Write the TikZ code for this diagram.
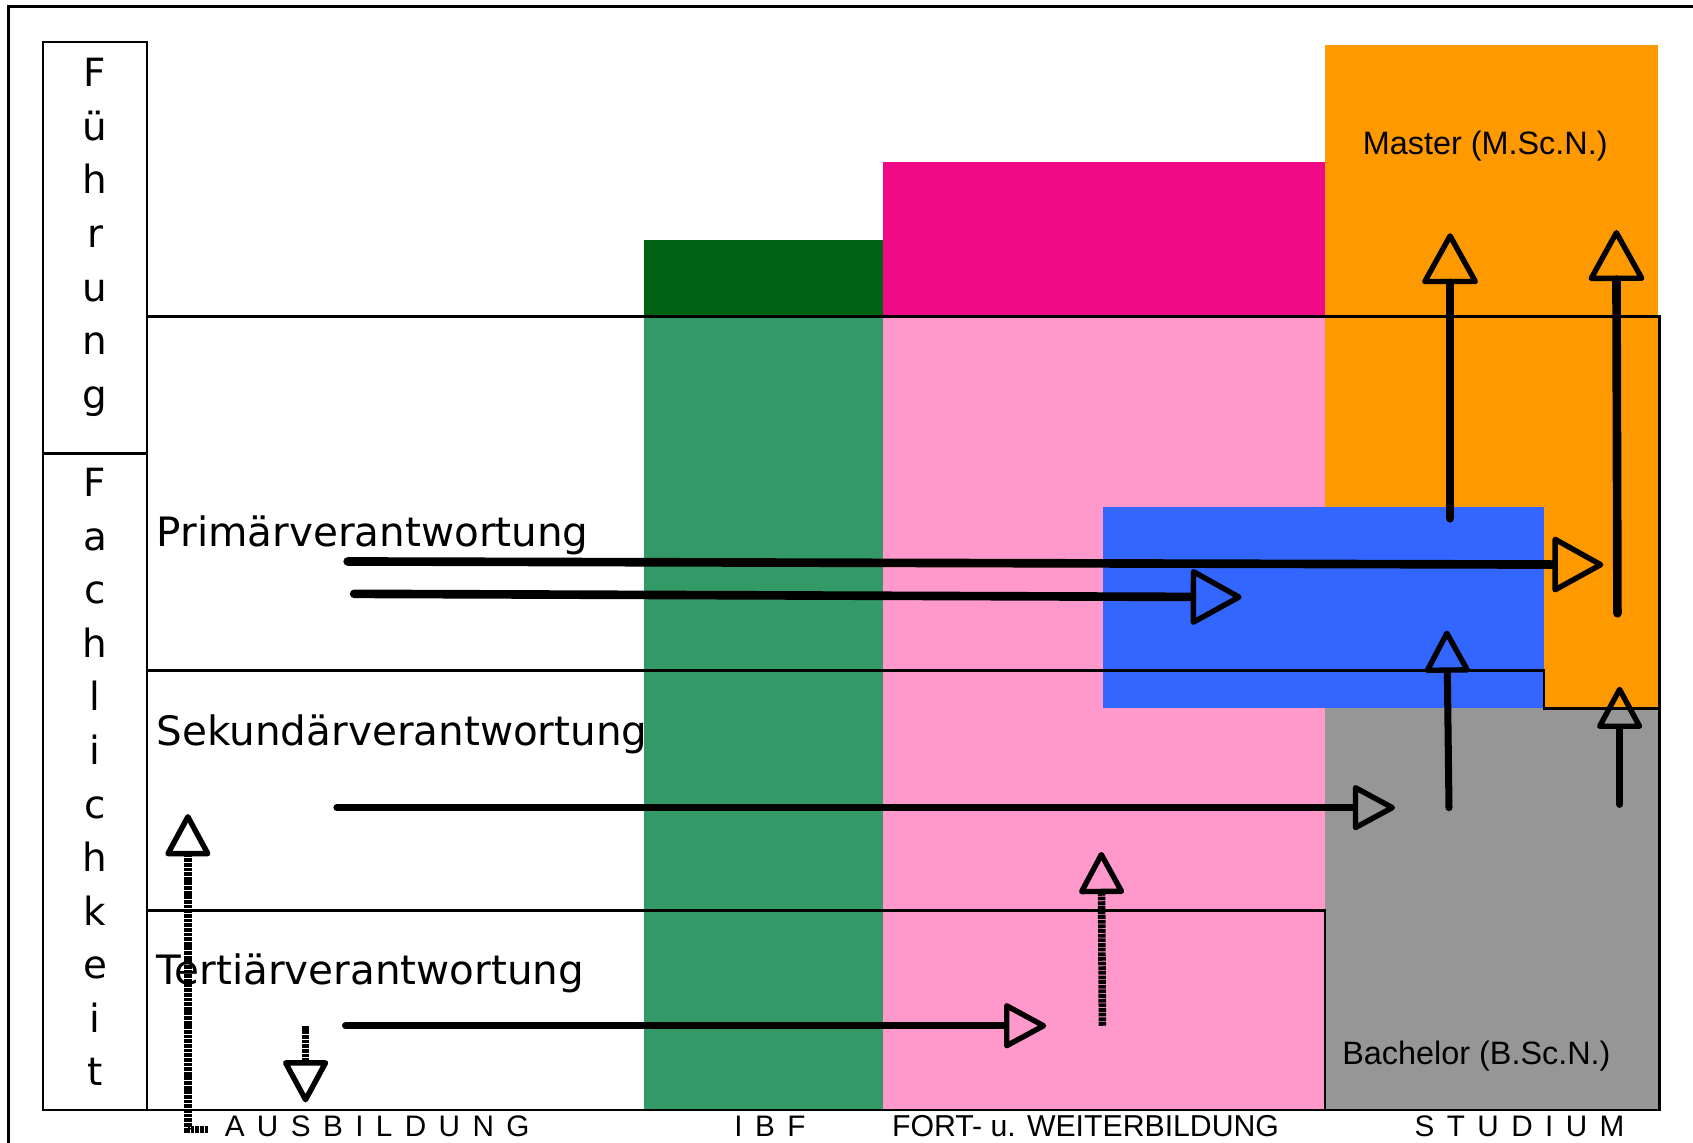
\documentclass[tikz,border=0pt]{standalone}
\usepackage{fontspec}
\setmainfont{DejaVu Sans}
\newfontfamily\labfont{Liberation Sans}
\newfontfamily\spacedfont[LetterSpace=14]{Liberation Sans}
\usetikzlibrary{arrows.meta}
\definecolor{dkgreen}{RGB}{0,99,19}
\definecolor{mdgreen}{RGB}{51,153,102}
\definecolor{magentax}{RGB}{240,10,133}
\definecolor{pinkx}{RGB}{255,153,204}
\definecolor{orangex}{RGB}{255,153,0}
\definecolor{bluex}{RGB}{51,102,255}
\definecolor{grayx}{RGB}{150,150,150}
\tikzset{
  gridline/.style={line width=2.4pt},
  shaft/.style={line width=8pt, line cap=round},
  thinshaft/.style={line width=6.5pt, line cap=round},
  bighead/.style={-{Triangle[open,length=50pt,width=54pt,line width=5pt,round]}},
  smallhead/.style={-{Triangle[open,length=42pt,width=44pt,line width=5pt,round]}},
  dotline/.style={line width=7pt, dash pattern=on 3.5pt off 0.8pt},
  vlet/.style={font=\fontsize{36}{36}\selectfont, anchor=base, inner sep=0pt},
  rowlabel/.style={font=\fontsize{37.5}{38}\selectfont, anchor=base west, inner sep=0pt},
  deglabel/.style={font=\labfont\fontsize{30}{30}\selectfont, anchor=base west, inner sep=0pt},
  collabel/.style={font=\spacedfont\fontsize{27.5}{28}\selectfont, anchor=base west, inner sep=0pt},
  colplain/.style={font=\labfont\fontsize{28}{28}\selectfont, anchor=base west, inner sep=0pt},
}
\begin{document}
\begin{tikzpicture}[x=1pt,y=-1pt]
\useasboundingbox (0,0) rectangle (1568,1058);
% outer frame (cut by page)
\draw[gridline] (8,1070) -- (8,6) -- (1580,6);
% colour blocks
\fill[dkgreen] (596,222) rectangle (818,293);
\fill[mdgreen] (596,293) rectangle (818,1028);
\fill[magentax] (818,150) rectangle (1227,293);
\fill[pinkx] (818,293) rectangle (1227,1028);
\fill[orangex] (1227,42) rectangle (1536,656);
\fill[grayx] (1227,656) rectangle (1537,1028);
\fill[bluex] (1022,470) rectangle (1430,656);
% side boxes
\draw[gridline] (40,39) rectangle (136,420);
\draw[gridline] (40,420) rectangle (136,1028);
% grid lines
\draw[gridline] (136,293) -- (1537,293) -- (1537,1028) -- (136,1028);
\draw[gridline] (136,621) -- (1430,621) -- (1430,656) -- (1537,656);
\draw[gridline] (136,843) -- (1227,843) -- (1227,1028);
% vertical words
\foreach \c [count=\i from 0] in {F,ü,h,r,u,n,g}
  \node[vlet] (fu\i) at (88,{80+49.7*\i}) {\c};
\foreach \c [count=\i from 0] in {F,a,c,h,l,i,c,h,k,e,i,t}
  \node[vlet] (fa\i) at (88,{460+49.6*\i}) {\c};
% row labels
\node[rowlabel] (prim) at (145,506) {Primärverantwortung};
\node[rowlabel] (sek) at (145,690) {Sekundärverantwortung};
\node[rowlabel] (tert) at (145,912) {Tertiärverantwortung};
% degree labels
\node[deglabel] (master) at (1262,143) {Master (M.Sc.N.)};
\node[deglabel] (bach) at (1243,986) {Bachelor (B.Sc.N.)};
% column labels
\node[collabel] (ausb) at (208,1053) {A U S B I L D U N G};
\node[collabel] (ibf) at (680,1053) {I B F};
\node[colplain] (fort) at (826,1053) {FORT- u. WEITERBILDUNG};
\node[collabel] (stud) at (1310,1053) {S T U D I U M};
% arrow coordinates
\coordinate (a1s) at (322,520);  \coordinate (a1e) at (1485,523);
\coordinate (a2s) at (328,550);  \coordinate (a2e) at (1150,553);
\coordinate (a3s) at (312,748);  \coordinate (a3e) at (1292,748);
\coordinate (a4s) at (320,950);  \coordinate (a4e) at (969,950);
\coordinate (a5s) at (1343,480); \coordinate (a5e) at (1343,216);
\coordinate (a6s) at (1498,568); \coordinate (a6e) at (1497,213);
\coordinate (a7s) at (1342,748); \coordinate (a7e) at (1340,584);
\coordinate (a8s) at (1500,745); \coordinate (a8e) at (1500,636);
\coordinate (a9s) at (1021,950); \coordinate (a9e) at (1020,789);
\coordinate (a10t) at (193,1046); \coordinate (a10c) at (174,1046); \coordinate (a10e) at (174,754);
\coordinate (a11s) at (283,950); \coordinate (a11e) at (283,1021);
% arrows
\draw[shaft,bighead] (a1s) -- (a1e);
\draw[shaft,bighead] (a2s) -- (a2e);
\draw[thinshaft,smallhead] (a3s) -- (a3e);
\draw[thinshaft,smallhead] (a4s) -- (a4e);
\draw[shaft,bighead] (a5s) -- (a5e);
\draw[shaft,bighead] (a6s) -- (a6e);
\draw[thinshaft,smallhead] (a7s) -- (a7e);
\draw[thinshaft,smallhead] (a8s) -- (a8e);
\draw[dotline,smallhead] (a9s) -- (a9e);
\draw[dotline,smallhead] (a10t) -- (a10c) -- (a10e);
\draw[dotline,smallhead] (a11s) -- (a11e);
\end{tikzpicture}
\end{document}
